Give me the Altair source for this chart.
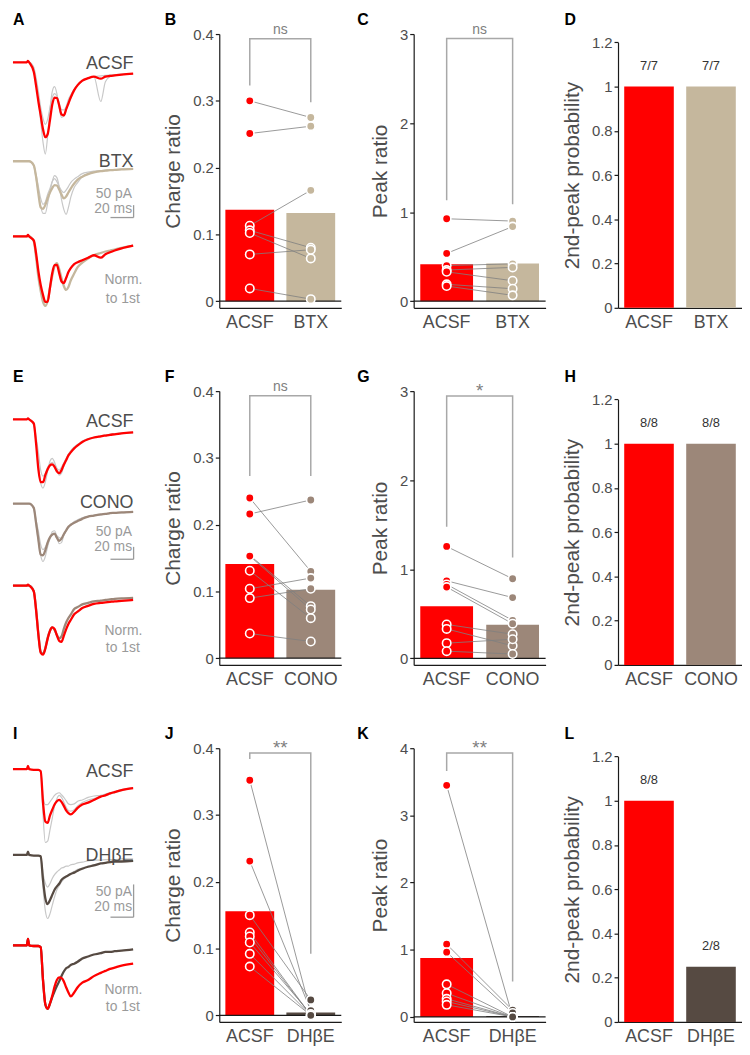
import altair as alt
import pandas as pd

FONT = "Liberation Sans"
RED = "#FF0000"
DRUGS = ["BTX", "CONO", "DHβE"]
DRUG_COLORS = ["#C5B79D", "#9C8779", "#564A42"]
TXT = "#4D4D4D"
LIGHT = "#9A9A9A"
TRACE_GRAY = "#C8C8C8"
BRACKET = "#A8A8A8"
LINK = "#808080"

# ---------------- trace samples (time in ms, current in pA relative to baseline) --------------
T_MS = [0, 12, 13, 14, 18, 20, 22, 24, 26, 28, 30, 32, 34, 36, 38, 40, 42, 44, 46, 48,
        50, 53, 56, 60, 65, 70, 76, 80, 84, 88, 94, 104]

# row 1 (BTX)
acsf_r1 = [0, 0, 6, 0, -38, -94, -158, -214, -270, -302, -290, -234, -170, -142, -144, -174,
           -210, -214, -190, -166, -142, -112, -92, -74, -64, -58, -66, -58, -55, -53, -50, -46]
acsf_r1_g1 = [0, 0, 0, 0, -26, -86, -150, -238, -322, -370, -298, -190, -118, -98, -126, -182,
              -222, -218, -194, -162, -138, -110, -90, -74, -64, -58, -158, -78, -58, -54, -50, -46]
acsf_r1_g2 = [0, 0, 0, 0, -20, -62, -118, -182, -226, -250, -230, -184, -142, -126, -136, -164,
              -190, -192, -178, -150, -132, -108, -90, -76, -64, -58, -55, -53, -51, -50, -48, -46]
btx_tr = [0, 0, 0, 0, -16, -62, -130, -186, -192, -176, -150, -126, -108, -96, -98, -114,
          -134, -150, -142, -126, -110, -90, -74, -62, -52, -45, -40, -38, -36, -35, -33, -31]
btx_g1 = [0, 0, 0, 0, -20, -70, -126, -182, -210, -210, -170, -124, -82, -58, -66, -102,
          -154, -194, -214, -186, -146, -106, -86, -62, -50, -44, -40, -38, -36, -35, -33, -31]
btx_g2 = [0, 0, 0, 0, -16, -54, -102, -150, -174, -164, -134, -110, -82, -70, -82, -102,
          -118, -126, -116, -102, -86, -72, -62, -50, -44, -40, -38, -36, -35, -35, -33, -31]
norm_acsf_r1 = [0, 0, 6, 0, -16, -68, -140, -196, -236, -264, -264, -208, -148, -116, -115, -148,
                -182, -188, -168, -144, -128, -112, -104, -96, -86, -76, -86, -72, -64, -57, -48, -37]
norm_btx = [0, 0, 0, 0, -20, -84, -164, -220, -264, -280, -260, -208, -160, -120, -108, -132,
            -168, -200, -216, -204, -178, -150, -124, -106, -89, -76, -67, -61, -57, -53, -46, -37]

# row 2 (CONO)
acsf_r2 = [0, 0, 4, 0, -16, -97, -201, -253, -253, -225, -201, -185, -181, -191, -209, -217,
           -205, -183, -165, -145, -133, -117, -105, -91, -80, -73, -68, -65, -62, -60, -56, -52]
acsf_r2_g1 = [0, 0, 0, 0, -25, -97, -181, -257, -277, -253, -209, -169, -157, -173, -201, -225,
              -217, -189, -165, -141, -127, -111, -101, -87, -77, -72, -66, -63, -60, -57, -54, -51]
acsf_r2_g2 = [0, 0, 0, 0, -17, -69, -133, -205, -229, -217, -193, -179, -173, -183, -197, -205,
              -193, -175, -157, -141, -127, -113, -101, -91, -81, -75, -66, -63, -60, -58, -56, -53]
cono_tr = [0, 0, 0, 0, -17, -77, -145, -205, -208, -188, -157, -136, -125, -121, -137, -150,
           -141, -123, -108, -93, -85, -77, -70, -61, -52, -48, -43, -41, -38, -37, -35, -33]
cono_g1 = [0, 0, 0, 0, -21, -85, -153, -209, -233, -213, -173, -141, -113, -109, -133, -161,
           -157, -129, -109, -97, -87, -76, -68, -57, -52, -47, -44, -42, -39, -37, -36, -33]
cono_g2 = [0, 0, 0, 0, -15, -65, -111, -165, -185, -175, -155, -137, -126, -121, -129, -137,
           -139, -125, -109, -95, -83, -72, -65, -57, -52, -48, -44, -42, -39, -37, -36, -33]
norm_acsf_r2 = [0, 0, 4, 0, -23, -99, -199, -271, -279, -255, -215, -183, -169, -175, -201, -223,
                -227, -203, -177, -155, -139, -116, -105, -91, -82, -74, -70, -68, -66, -64, -62, -58]
norm_cono = [0, 0, 0, 0, -23, -95, -195, -267, -275, -253, -211, -183, -169, -179, -199, -213,
             -205, -175, -149, -131, -117, -95, -87, -76, -70, -64, -61, -58, -56, -54, -52, -50]

# row 3 (DHβE)
acsf_r3 = [0, 0, 5, 0, -1, -1, -1, -3, -51, -80, -82, -71, -62, -54, -49, -47,
           -50, -56, -63, -67, -69, -65, -59, -54, -51, -47, -42, -40, -37, -35, -32, -29]
acsf_r3_g1 = [0, 0, 0, 0, -1, -1, -1, -3, -69, -112, -110, -93, -75, -56, -45, -40,
              -43, -50, -58, -63, -64, -62, -56, -51, -47, -45, -42, -40, -38, -36, -33, -28]
acsf_r3_g2 = [0, 0, 0, 0, -1, -1, -1, -3, -40, -54, -54, -50, -45, -40, -37, -36,
              -39, -43, -48, -53, -54, -53, -49, -47, -43, -41, -40, -38, -36, -34, -31, -28]
dhbe_tr = [0, 0, 5, 0, -1, -1, -1, -2, -38, -66, -75, -69, -61, -53, -48, -44,
           -38, -35, -33, -31, -29, -27, -24, -21, -18, -16, -13, -12, -11, -10, -10, -9]
dhbe_g1 = [0, 0, 0, 0, -1, -1, -1, -2, -50, -85, -97, -90, -77, -64, -53, -47,
           -41, -37, -33, -31, -28, -25, -22, -20, -17, -15, -13, -12, -11, -10, -10, -9]
dhbe_g2 = [0, 0, 0, 0, -1, -1, -1, -2, -28, -43, -49, -44, -36, -30, -26, -23,
           -20, -19, -17, -17, -15, -14, -12, -11, -9, -8, -8, -7, -7, -7, -6, -6]
norm_acsf_r3 = [0, 0, 10, 0, -1, -1, -1, -3, -53, -90, -97, -89, -77, -63, -53, -49,
                -50, -55, -64, -72, -78, -72, -64, -57, -53, -47, -42, -39, -36, -34, -31, -28]
norm_dhbe = [0, 0, 10, 0, -1, -1, -1, -3, -53, -90, -97, -89, -79, -70, -62, -55,
             -47, -40, -35, -33, -30, -28, -25, -20, -17, -14, -12, -10, -10, -9, -8, -6]

# ---------------- summary data ----------------
CHARGE_ACSF = [[0.300, 0.251, 0.113, 0.106, 0.102, 0.070, 0.019],
               [0.240, 0.216, 0.154, 0.153, 0.131, 0.104, 0.090, 0.037],
               [0.352, 0.231, 0.150, 0.124, 0.118, 0.109, 0.092, 0.073]]
CHARGE_DRUG = [[0.275, 0.262, 0.166, 0.080, 0.064, 0.077, 0.003],
               [0.130, 0.237, 0.078, 0.073, 0.060, 0.120, 0.104, 0.025],
               [0.004, 0.007, 0.023, 0.000, 0.000, 0.002, 0.000, 0.000]]
CHARGE_BAR = [[0.137, 0.132], [0.141, 0.1025], [0.156, 0.004]]

PEAK_ACSF = [[0.926, 0.537, 0.40, 0.35, 0.33, 0.19, 0.17],
             [1.256, 0.87, 0.83, 0.80, 0.38, 0.33, 0.17, 0.08],
             [3.447, 1.082, 0.964, 0.485, 0.352, 0.27, 0.23, 0.18]]
PEAK_DRUG = [[0.900, 0.838, 0.42, 0.38, 0.23, 0.14, 0.066],
             [0.893, 0.682, 0.426, 0.389, 0.27, 0.14, 0.214, 0.048],
             [0.0, 0.10, 0.06, 0.0, 0.0, 0.0, 0.0, 0.0]]
PEAK_BAR = [[0.415, 0.423], [0.584, 0.378], [0.876, 0.015]]

PROB = [[1.0, 1.0], [1.0, 1.0], [1.0, 0.25]]
PROB_TXT = [["7/7", "7/7"], ["8/8", "8/8"], ["8/8", "2/8"]]

SIG_CHARGE = ["ns", "ns", "**"]
SIG_PEAK = ["ns", "*", "**"]

# ---------------- layout constants ----------------
H = 276
W_A, W_B, W_C, W_D = 135, 123, 133, 125
COL_GAP, ROW_GAP = 73, 84
PX_PER_MS = 1.165
LETTERS = [["A", "B", "C", "D"], ["E", "F", "G", "H"], ["I", "J", "K", "L"]]
LETTER_DX = [0, -55, -57, -54]

TRACE_YDOM = [-1104, -1104, -418]
TRACE_OFFS = [{"acsf": -114, "cond": -513, "norm": -816},
              {"acsf": -114, "cond": -454, "norm": -784},
              {"acsf": -32, "cond": -163, "norm": -301}]
TRACE_TXT_Y = [dict(acsf=-141, cond=-537, pa=-660, ms=-720, bar=-740, norm=-1008, first=-1084),
               dict(acsf=-144, cond=-471, pa=-584, ms=-644, bar=-678, norm=-984, first=-1051),
               dict(acsf=-44, cond=-172, pa=-226, ms=-248, bar=-258, norm=-376, first=-401)]
TRACE_SETS = [
    [("a_g1", "acsf", "gray", acsf_r1_g1), ("a_g2", "acsf", "gray", acsf_r1_g2),
     ("c_g1", "cond", "gray", btx_g1), ("c_g2", "cond", "gray", btx_g2),
     ("a", "acsf", "main", acsf_r1), ("c", "cond", "main", btx_tr),
     ("n_c", "norm", "main", norm_btx), ("n_a", "norm", "top", norm_acsf_r1)],
    [("a_g1", "acsf", "gray", acsf_r2_g1), ("a_g2", "acsf", "gray", acsf_r2_g2),
     ("c_g1", "cond", "gray", cono_g1), ("c_g2", "cond", "gray", cono_g2),
     ("a", "acsf", "main", acsf_r2), ("c", "cond", "main", cono_tr),
     ("n_c", "norm", "main", norm_cono), ("n_a", "norm", "top", norm_acsf_r2)],
    [("a_g1", "acsf", "gray", acsf_r3_g1), ("a_g2", "acsf", "gray", acsf_r3_g2),
     ("c_g1", "cond", "gray", dhbe_g1), ("c_g2", "cond", "gray", dhbe_g2),
     ("a", "acsf", "main", acsf_r3), ("c", "cond", "main", dhbe_tr),
     ("n_c", "norm", "main", norm_dhbe), ("n_a", "norm", "top", norm_acsf_r3)],
]

CHARGE_DOM = [[-0.01, 0.4]] * 3
PEAK_DOM = [[-0.074, 3.0], [-0.074, 3.0], [-0.075, 4.0]]
CHARGE_TICKS = [0, 0.1, 0.2, 0.3, 0.4]
PEAK_TICKS = [[0, 1, 2, 3], [0, 1, 2, 3], [0, 1, 2, 3, 4]]
CHARGE_BRACKET = [(0.323, 0.393, 0.298), (0.273, 0.393, 0.273), (0.384, 0.393, 0.092)]
PEAK_BRACKET = [(1.133, 2.95, 1.089), (1.476, 2.946, 1.133), (3.66, 3.93, 0.527)]
PROB_PX_PER_UNIT = 223


def letter_layer(letter, dx):
    return alt.Chart(pd.DataFrame({"s": [letter]})).mark_text(
        align="left", baseline="alphabetic", fontSize=16, fontWeight="bold", color="black"
    ).encode(text="s:N", x=alt.value(dx), y=alt.value(-9))


def trace_panel(r):
    rows = []
    for name, grp, kind, vals in TRACE_SETS[r]:
        if kind == "gray":
            col = TRACE_GRAY
        elif grp == "acsf" or kind == "top":
            col = RED
        else:
            col = DRUG_COLORS[r]
        for t, v in zip(T_MS, vals):
            rows.append(dict(trace=name, kind=kind, t=t, y=v + TRACE_OFFS[r][grp], col=col))
    df = pd.DataFrame(rows)
    xs = alt.X("t:Q", scale=alt.Scale(domain=[0, W_A / PX_PER_MS], nice=False, zero=False), axis=None)
    ys = alt.Y("y:Q", scale=alt.Scale(domain=[TRACE_YDOM[r], 0], nice=False, zero=False), axis=None)
    base = alt.Chart(df)
    gray = base.transform_filter(alt.datum.kind == "gray").mark_line(
        color=TRACE_GRAY, strokeWidth=1.2, interpolate="monotone"
    ).encode(x=xs, y=ys, detail="trace:N")
    main = base.transform_filter(alt.datum.kind == "main").mark_line(
        strokeWidth=2.3, interpolate="monotone"
    ).encode(x=xs, y=ys, detail="trace:N", color=alt.Color("col:N", scale=None))
    top = base.transform_filter(alt.datum.kind == "top").mark_line(
        strokeWidth=2.3, interpolate="monotone", color=RED
    ).encode(x=xs, y=ys)

    ty = TRACE_TXT_Y[r]
    lab = pd.DataFrame({
        "t": [104.3, 104.3, 103.1, 103.1],
        "y": [ty["acsf"], ty["cond"], ty["pa"], ty["ms"]],
        "s": ["ACSF", DRUGS[r], "50 pA", "20 ms"],
        "c": [TXT, TXT, LIGHT, LIGHT],
        "z": [18, 18, 14, 14],
    })
    labels = alt.Chart(lab).mark_text(align="right", baseline="alphabetic").encode(
        x=xs, y=ys, text="s:N", color=alt.Color("c:N", scale=None), size=alt.Size("z:Q", scale=None))
    lab2 = pd.DataFrame({"t": [79.3, 80.4], "y": [ty["norm"], ty["first"]], "s": ["Norm.", "to 1st"]})
    labels2 = alt.Chart(lab2).mark_text(align="left", baseline="alphabetic", fontSize=14, color=LIGHT).encode(
        x=xs, y=ys, text="s:N")
    sb_h = alt.Chart(pd.DataFrame({"t": [84.4], "t2": [104.4], "y": [ty["bar"]]})).mark_rule(
        color=LIGHT, strokeWidth=1.3).encode(x=xs, x2="t2:Q", y=ys)
    sb_v = alt.Chart(pd.DataFrame({"t": [104.4], "y": [ty["bar"]], "y2": [ty["bar"] + 50]})).mark_rule(
        color=LIGHT, strokeWidth=1.3).encode(x=xs, y=ys, y2="y2:Q")
    return alt.layer(gray, main, top, labels, labels2, sb_h, sb_v,
                     letter_layer(LETTERS[r][0], LETTER_DX[0])).properties(width=W_A, height=H)


def pair_panel(r, kind):
    cats = ["ACSF", DRUGS[r]]
    if kind == "charge":
        a_vals, d_vals, bars = CHARGE_ACSF[r], CHARGE_DRUG[r], CHARGE_BAR[r]
        dom, ticks, title = CHARGE_DOM[r], CHARGE_TICKS, "Charge ratio"
        br, sig, w, li = CHARGE_BRACKET[r], SIG_CHARGE[r], W_B, 1
    else:
        a_vals, d_vals, bars = PEAK_ACSF[r], PEAK_DRUG[r], PEAK_BAR[r]
        dom, ticks, title = PEAK_DOM[r], PEAK_TICKS[r], "Peak ratio"
        br, sig, w, li = PEAK_BRACKET[r], SIG_PEAK[r], W_C, 2
    xenc = alt.X("cond:N", scale=alt.Scale(domain=cats, paddingInner=0.2, paddingOuter=0.1),
                 axis=alt.Axis(title=None, labelAngle=0, ticks=False))
    yenc = alt.Y("val:Q", scale=alt.Scale(domain=dom, nice=False, zero=False),
                 axis=alt.Axis(title=title, values=ticks, format="~g"))
    color = alt.Color("cond:N", scale=alt.Scale(domain=cats, range=[RED, DRUG_COLORS[r]]), legend=None)

    df_bar = pd.DataFrame({"cond": cats, "val": bars})
    pts = []
    for i, (a, d) in enumerate(zip(a_vals, d_vals)):
        pts.append(dict(pair=i, cond="ACSF", val=a))
        pts.append(dict(pair=i, cond=DRUGS[r], val=d))
    df_pts = pd.DataFrame(pts)
    df_br = pd.DataFrame({"cond": ["ACSF", "ACSF", DRUGS[r], DRUGS[r]],
                          "val": [br[0], br[1], br[1], br[2]], "o": [0, 1, 2, 3]})

    bar_l = alt.Chart(df_bar).mark_bar().encode(x=xenc, y=yenc, color=color)
    zero_l = alt.Chart(pd.DataFrame({"val": [0.0]})).mark_rule(color="#1a1a1a", strokeWidth=1.3).encode(y=yenc)
    link_l = alt.Chart(df_pts).mark_line(color=LINK, strokeWidth=0.8).encode(x=xenc, y=yenc, detail="pair:N")
    pt_l = alt.Chart(df_pts).mark_circle(size=72, opacity=1, stroke="white", strokeWidth=1.6).encode(
        x=xenc, y=yenc, color=color)
    br_l = alt.Chart(df_br).mark_line(color=BRACKET, strokeWidth=1.5).encode(x=xenc, y=yenc, order="o:Q")
    if sig == "ns":
        sig_l = alt.Chart(pd.DataFrame({"val": [br[1]], "s": [sig]})).mark_text(
            fontSize=14, color=LINK, baseline="alphabetic", dy=-5).encode(
            x=alt.value(w / 2), y=yenc, text="s:N")
    else:
        sig_l = alt.Chart(pd.DataFrame({"val": [br[1]], "s": [sig]})).mark_text(
            fontSize=19, color=LINK, baseline="alphabetic", dy=1).encode(
            x=alt.value(w / 2), y=yenc, text="s:N")
    return alt.layer(bar_l, zero_l, link_l, pt_l, br_l, sig_l,
                     letter_layer(LETTERS[r][li], LETTER_DX[li])).properties(width=w, height=H)


def prob_panel(r):
    cats = ["ACSF", DRUGS[r]]
    xenc = alt.X("cond:N", scale=alt.Scale(domain=cats, paddingInner=0.2, paddingOuter=0.1),
                 axis=alt.Axis(title=None, labelAngle=0, ticks=False))
    yenc = alt.Y("val:Q", scale=alt.Scale(domain=[0, 1.2], range=[H, H - 1.2 * PROB_PX_PER_UNIT], nice=False),
                 axis=alt.Axis(title="2nd-peak probability", values=[0, 0.2, 0.4, 0.6, 0.8, 1, 1.2], format="~g"))
    color = alt.Color("cond:N", scale=alt.Scale(domain=cats, range=[RED, DRUG_COLORS[r]]), legend=None)
    df = pd.DataFrame({"cond": cats, "val": PROB[r], "s": PROB_TXT[r]})
    bars = alt.Chart(df).mark_bar().encode(x=xenc, y=yenc, color=color)
    txt = alt.Chart(df).mark_text(fontSize=13, color="#333333", baseline="alphabetic", dy=-17).encode(
        x=xenc, y=yenc, text="s:N")
    return alt.layer(bars, txt, letter_layer(LETTERS[r][3], LETTER_DX[3])).properties(width=W_D, height=H)


panels = []
for r in range(3):
    panels += [trace_panel(r), pair_panel(r, "charge"), pair_panel(r, "peak"), prob_panel(r)]

chart = alt.concat(*panels, columns=4, spacing={"row": ROW_GAP, "column": COL_GAP}, bounds="flush").resolve_scale(
    color="independent", x="independent", y="independent"
).properties(
    padding=0
).configure(font=FONT).configure_view(stroke=None).configure_axis(
    grid=False, labelFont=FONT, titleFont=FONT, labelColor=TXT, titleColor=TXT,
    domainColor="#1a1a1a", tickColor="#1a1a1a", domainWidth=1.2, tickWidth=1.2,
    titleFontWeight="normal"
).configure_axisY(
    labelFontSize=15, titleFontSize=21, tickSize=4, labelPadding=2, titlePadding=9
).configure_axisX(
    labelFontSize=18, labelPadding=6
)

chart.save("out.html", embed_options={"renderer": "svg", "actions": False})
